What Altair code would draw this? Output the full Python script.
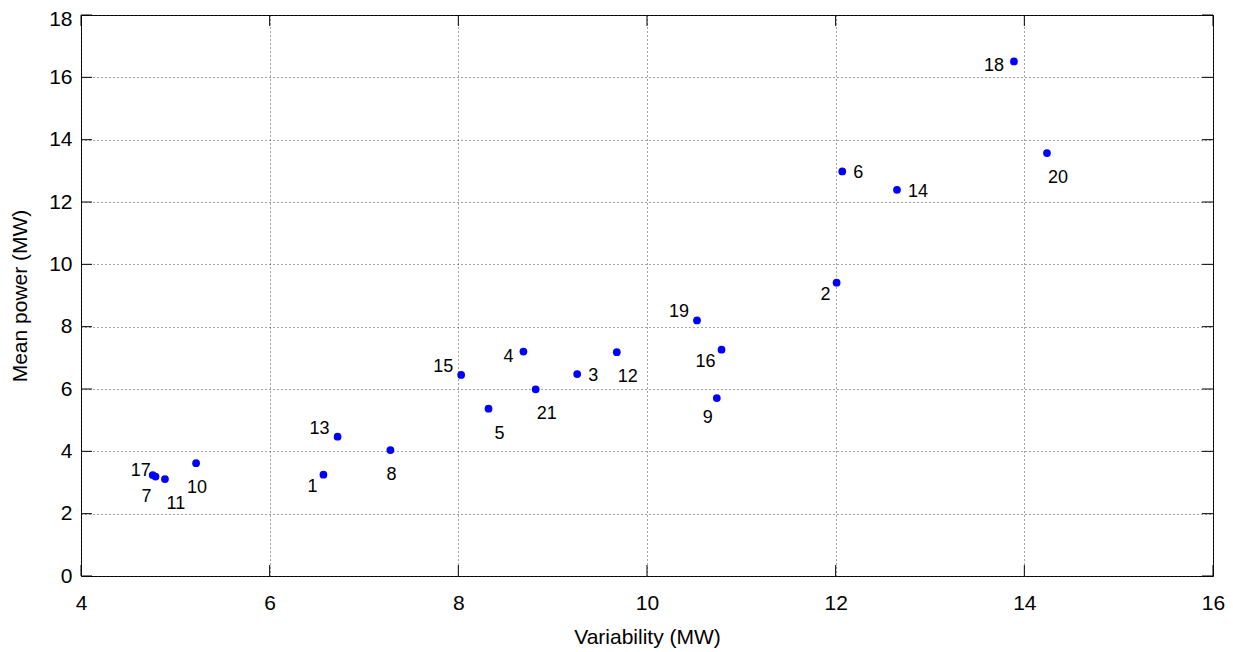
import altair as alt
import pandas as pd

# Site ids, variability (MW), mean power (MW), label placement
ids = [1, 2, 3, 4, 5, 6, 7, 8, 9, 10, 11, 12, 13, 14, 15, 16, 17, 18, 19, 20, 21]
variability = [6.57, 12.01, 9.26, 8.69, 8.32, 12.07, 4.79, 7.28, 10.74, 5.22, 4.89,
               9.68, 6.72, 12.65, 8.03, 10.79, 4.76, 13.89, 10.53, 14.24, 8.82]
mean_power = [3.25, 9.41, 6.48, 7.20, 5.37, 12.98, 3.19, 4.04, 5.71, 3.62, 3.11,
              7.18, 4.47, 12.39, 6.45, 7.26, 3.24, 16.51, 8.20, 13.57, 5.99]
placement = ["SW", "SW", "E", "W", "SE", "E", "SSW", "S", "SSW", "S", "SE",
             "SE", "NW", "E", "NW", "SW", "WNW", "W", "NW", "SE", "SE"]

x_ticks = [4, 6, 8, 10, 12, 14, 16]
y_ticks = [0, 2, 4, 6, 8, 10, 12, 14, 16, 18]

W, H = 1132, 561
FONT = "Liberation Sans"
TICKLEN = 11

df = pd.DataFrame({"id": ids, "x": variability, "y": mean_power, "place": placement})
dfx = pd.DataFrame({"x": x_ticks})
dfy = pd.DataFrame({"y": y_ticks})

xscale = alt.Scale(domain=[4, 16], nice=False, zero=False)
yscale = alt.Scale(domain=[0, 18], nice=False, zero=False)
xaxis = alt.Axis(values=x_ticks, format="d", grid=True, ticks=False, domain=False,
                 labelFlush=False, labelPadding=16, titlePadding=13)
yaxis = alt.Axis(values=y_ticks, format="d", grid=True, ticks=False, domain=False,
                 labelFlush=False, labelPadding=9, titlePadding=18,
                 labelOffset={"condition": {"test": "datum.value == 18", "value": 4}, "value": 0})
XT = "Variability (MW)"
YT = "Mean power (MW)"

points = alt.Chart(df).mark_circle(size=60, color="#0000ff", opacity=1).encode(
    x=alt.X("x:Q", scale=xscale, axis=xaxis, title=XT),
    y=alt.Y("y:Q", scale=yscale, axis=yaxis, title=YT),
)

# placement -> (align, dx, dy)
offsets = {
    "E": ("left", 11, 2),
    "W": ("right", -10, 5),
    "NW": ("right", -8, -8),
    "WNW": ("right", -2, -4),
    "SW": ("right", -6, 12),
    "S": ("center", 1, 25),
    "SSW": ("center", -9, 20),
    "SE": ("center", 11, 25),
}

labels = []
for p, (al, dx, dy) in offsets.items():
    labels.append(
        alt.Chart(df).transform_filter(alt.datum.place == p).mark_text(
            align=al, baseline="middle", dx=dx, dy=dy, font=FONT, fontSize=18, color="#000"
        ).encode(
            x=alt.X("x:Q", scale=xscale, title=XT),
            y=alt.Y("y:Q", scale=yscale, title=YT),
            text="id:N",
        )
    )

tick_style = dict(color="#000", strokeWidth=1)
xt_bottom = alt.Chart(dfx).mark_rule(**tick_style).encode(
    x=alt.X("x:Q", scale=xscale, title=XT), y=alt.value(H), y2=alt.value(H - TICKLEN))
xt_top = alt.Chart(dfx).mark_rule(**tick_style).encode(
    x=alt.X("x:Q", scale=xscale, title=XT), y=alt.value(0), y2=alt.value(TICKLEN))
yt_left = alt.Chart(dfy).mark_rule(**tick_style).encode(
    y=alt.Y("y:Q", scale=yscale, title=YT), x=alt.value(0), x2=alt.value(TICKLEN))
yt_right = alt.Chart(dfy).mark_rule(**tick_style).encode(
    y=alt.Y("y:Q", scale=yscale, title=YT), x=alt.value(W), x2=alt.value(W - TICKLEN))

chart = alt.layer(xt_bottom, xt_top, yt_left, yt_right, points, *labels).properties(
    width=W, height=H,
    padding={"left": 73, "top": 7, "right": 12, "bottom": 76},
    autosize=alt.AutoSizeParams(type="none"),
).configure(
    background="white"
).configure_view(
    stroke="#000", strokeWidth=1
).configure_axis(
    labelFont=FONT, titleFont=FONT, labelFontSize=21, titleFontSize=21,
    labelColor="#000", titleColor="#000", titleFontWeight="normal",
    gridColor="#333", gridDash=[1, 3], gridWidth=1, gridOpacity=0.9,
)

chart.save("out.html", embed_options={"renderer": "svg", "actions": False})
